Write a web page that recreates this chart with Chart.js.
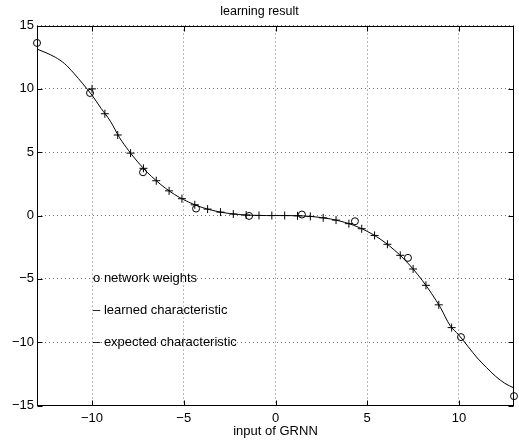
<!DOCTYPE html>
<html><head><meta charset="utf-8">
<script src="https://cdn.jsdelivr.net/npm/chart.js@4/dist/chart.umd.min.js"></script>
<style>html,body{margin:0;padding:0;background:#fff;}</style>
</head><body>
<canvas id="c" width="519" height="443"></canvas>
<script>
// network weights (circles)
const weightX = [-13, -10.11, -7.22, -4.33, -1.44, 1.44, 4.33, 7.22, 10.11, 13];
const weightY = [13.63, 9.68, 3.42, 0.55, -0.03, 0.08, -0.45, -3.34, -9.6, -14.26];

// learned characteristic (solid line)
const learnedX = [-13, -12.5, -12, -11.5, -11, -10.5, -10, -9.5, -9, -8.5, -8, -7.5, -7, -6.5, -6, -5.5, -5, -4.5, -4, -3.5, -3, -2.5, -2, -1.5, -1, -0.5, 0, 0.5, 1, 1.5, 2, 2.5, 3, 3.5, 4, 4.5, 5, 5.5, 6, 6.5, 7, 7.5, 8, 8.5, 9, 9.5, 10, 10.5, 11, 11.5, 12, 12.5, 13];
const learnedY = [13.15, 12.85, 12.5, 12.0, 11.25, 10.4, 9.5, 8.45, 7.45, 6.15, 5.12, 4.22, 3.43, 2.75, 2.16, 1.66, 1.25, 0.91, 0.64, 0.43, 0.27, 0.16, 0.08, 0.03, 0.01, 0, 0, 0, -0.01, -0.03, -0.08, -0.16, -0.27, -0.43, -0.64, -0.91, -1.25, -1.66, -2.16, -2.75, -3.43, -4.22, -5.12, -6.14, -7.29, -8.65, -9.45, -10.35, -11.25, -12.0, -12.7, -13.25, -13.62];

// expected characteristic (plus markers)
const expectedX = [-10, -9.3, -8.6, -7.9, -7.2, -6.5, -5.8, -5.1, -4.4, -3.7, -3.0, -2.3, -1.6, -0.9, -0.2, 0.5, 1.2, 1.9, 2.6, 3.3, 4.0, 4.7, 5.4, 6.1, 6.8, 7.5, 8.2, 8.9, 9.6];
const expectedY = [10.0, 8.04, 6.36, 4.93, 3.73, 2.75, 1.95, 1.33, 0.85, 0.51, 0.27, 0.12, 0.04, 0.01, 0.0, 0.0, -0.02, -0.07, -0.18, -0.36, -0.64, -1.04, -1.57, -2.27, -3.14, -4.22, -5.51, -7.05, -8.85];

// ticks
const xTicks = [-10, -5, 0, 5, 10];
const yTicks = [-15, -10, -5, 0, 5, 10, 15];

// in-plot text labels
const noteTexts = ['o network weights', '\u2013 learned characteristic', '\u2013 expected characteristic'];
const noteX = -10;
const noteY = [-5, -7.5, -10];

const FONT = '"Liberation Sans", Arial, Helvetica, sans-serif';
const fmt = v => (v < 0 ? '\u2212' + Math.abs(v) : String(v));
const pts = (xs, ys) => xs.map((x, i) => ({x: x, y: ys[i]}));

const framePlugin = {
  id: 'frame',
  afterDraw(chart) {
    const {ctx, chartArea: a, scales} = chart;
    const x = scales.x, y = scales.y;
    ctx.save();
    ctx.strokeStyle = '#000';
    ctx.lineWidth = 1;
    const L = Math.round(a.left) + 0.5, R = Math.round(a.right) - 0.5;
    const T = Math.round(a.top) + 0.5, B = Math.round(a.bottom) - 0.5;
    ctx.strokeRect(L, T, R - L, B - T);
    const tl = 5;
    ctx.beginPath();
    xTicks.forEach(v => {
      const px = Math.round(x.getPixelForValue(v)) + 0.5;
      ctx.moveTo(px, B); ctx.lineTo(px, B - tl);
      ctx.moveTo(px, T); ctx.lineTo(px, T + tl);
    });
    yTicks.forEach(v => {
      const py = Math.round(y.getPixelForValue(v)) + 0.5;
      ctx.moveTo(L, py); ctx.lineTo(L + tl, py);
      ctx.moveTo(R, py); ctx.lineTo(R - tl, py);
    });
    ctx.stroke();
    ctx.fillStyle = '#000';
    ctx.font = '13px ' + FONT;
    ctx.textAlign = 'left';
    ctx.textBaseline = 'middle';
    noteTexts.forEach((t, i) => {
      ctx.fillText(t, x.getPixelForValue(noteX) + 1, y.getPixelForValue(noteY[i]));
    });
    ctx.restore();
  }
};

const gridOpts = {color: 'rgba(0,0,0,0.55)', lineWidth: 1, drawTicks: false};

new Chart(document.getElementById('c'), {
  type: 'scatter',
  data: {
    datasets: [
      {
        label: 'network weights',
        data: pts(weightX, weightY),
        showLine: false,
        pointStyle: 'circle',
        pointRadius: 3.5,
        pointBorderWidth: 1,
        borderColor: '#000',
        backgroundColor: 'rgba(0,0,0,0)',
        clip: false
      },
      {
        label: 'learned characteristic',
        data: pts(learnedX, learnedY),
        showLine: true,
        borderColor: '#000',
        borderWidth: 1,
        pointRadius: 0,
        cubicInterpolationMode: 'monotone',
        fill: false
      },
      {
        label: 'expected characteristic',
        data: pts(expectedX, expectedY),
        showLine: false,
        pointStyle: 'cross',
        pointRadius: 4,
        pointBorderWidth: 1,
        borderColor: '#000',
        backgroundColor: '#000'
      }
    ]
  },
  options: {
    responsive: false,
    animation: false,
    devicePixelRatio: 1,
    layout: {padding: 0},
    plugins: {
      legend: {display: false},
      tooltip: {enabled: false},
      title: {
        display: true,
        text: 'learning result',
        color: '#000',
        font: {family: FONT, size: 12.5, weight: 'normal'},
        padding: {top: 4, bottom: 6.6}
      }
    },
    scales: {
      x: {
        type: 'linear',
        min: -13, max: 13,
        afterBuildTicks: s => { s.ticks = xTicks.map(v => ({value: v})); },
        afterFit: s => { s.height = 37.5; },
        grid: gridOpts,
        border: {display: false, dash: [1, 3]},
        ticks: {color: '#000', padding: 5, font: {family: FONT, size: 13}, callback: v => fmt(v), maxRotation: 0},
        title: {display: true, text: 'input of GRNN', color: '#000', font: {family: FONT, size: 13}, padding: {top: 0, bottom: 4}}
      },
      y: {
        type: 'linear',
        min: -15, max: 15,
        afterBuildTicks: s => { s.ticks = yTicks.map(v => ({value: v})); },
        afterFit: s => { s.width = 37; },
        grid: gridOpts,
        border: {display: false, dash: [1, 3]},
        ticks: {color: '#000', padding: 3, font: {family: FONT, size: 13}, callback: v => fmt(v)}
      }
    }
  },
  plugins: [framePlugin]
});
</script>
</body></html>
